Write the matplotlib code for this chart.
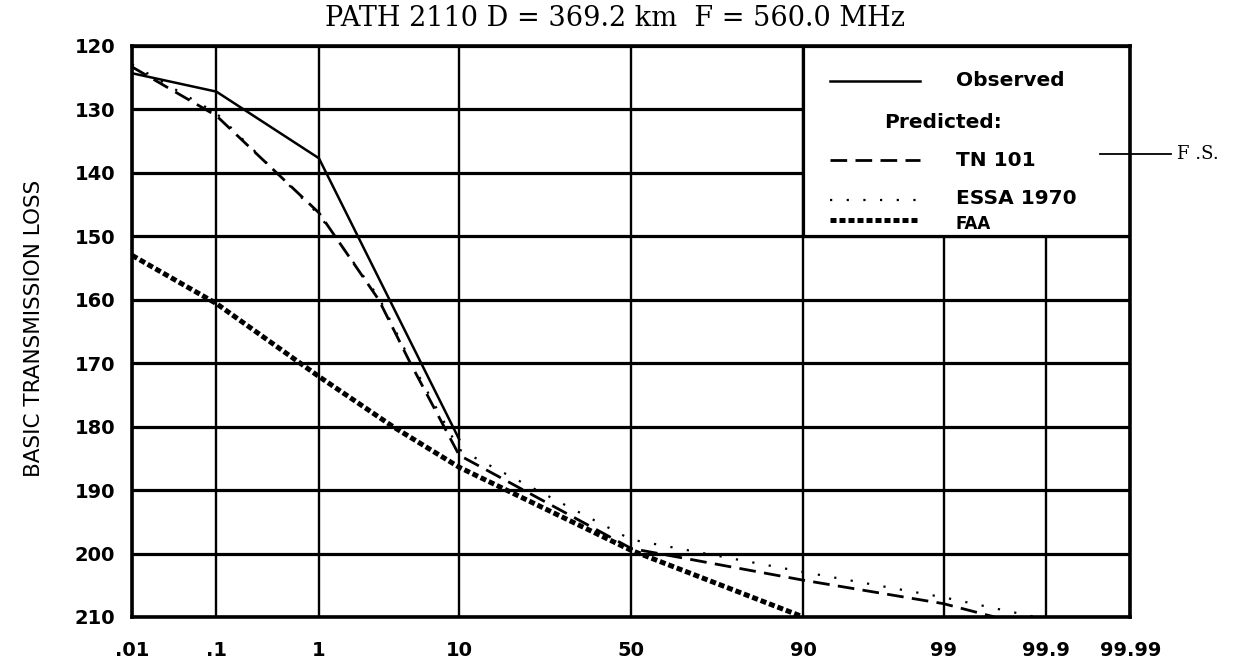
import numpy as np
import matplotlib
matplotlib.use("Agg")
import matplotlib.pyplot as plt
from statistics import NormalDist

# percent of time (probability scale) and basic transmission loss in dB
pct_ticks = [0.01, 0.1, 1, 10, 50, 90, 99, 99.9, 99.99]
pct_labels = [".01", ".1", "1", "10", "50", "90", "99", "99.9", "99.99"]
loss_ticks = [120, 130, 140, 150, 160, 170, 180, 190, 200, 210]

obs_pct = [0.01, 0.1, 1, 10]
obs_loss = [124.3, 127.2, 137.7, 182.0]

tn101_pct = [0.01, 0.1, 1, 3, 5, 10, 50, 90, 99, 99.66]
tn101_loss = [123.3, 131.0, 146.3, 160.0, 170.0, 184.5, 199.2, 204.2, 207.9, 210.0]

essa_pct = [0.01, 0.1, 1, 3, 5, 10, 50, 90, 99, 99.87]
essa_loss = [122.9, 130.6, 146.6, 159.6, 169.6, 183.6, 197.8, 202.9, 206.9, 210.0]

faa_pct = [0.01, 0.1, 1, 3.8, 10, 50, 90]
faa_loss = [153.0, 160.6, 172.1, 180.0, 186.4, 199.5, 210.0]

fs_loss = 137.0  # free space

# normal probability axis
nd = NormalDist()
fwd = np.vectorize(lambda p: nd.inv_cdf(p / 100.0) if 0 < p < 100 else np.nan, otypes=[float])
inv = np.vectorize(lambda z: nd.cdf(z) * 100.0, otypes=[float])

fig = plt.figure(figsize=(12.45, 6.64), dpi=100)
ax = fig.add_axes([0.106, 0.0708, 0.802, 0.860])
ax.set_xscale("function", functions=(fwd, inv))
ax.set_xlim(pct_ticks[0], pct_ticks[-1])
ax.set_ylim(loss_ticks[-1], loss_ticks[0])

ax.set_xticks(pct_ticks)
ax.set_xticklabels(pct_labels)
ax.set_yticks(loss_ticks)
ax.minorticks_off()
ax.tick_params(axis="x", length=0, pad=17, labelsize=14)
ax.tick_params(axis="y", length=0, pad=12, labelsize=14)
for t in ax.get_xticklabels() + ax.get_yticklabels():
    t.set_fontweight("bold")

ax.xaxis.grid(True, color="black", lw=1.7, zorder=1)
ax.yaxis.grid(True, color="black", lw=2.3, zorder=1)
ax.set_axisbelow(True)
for s in ax.spines.values():
    s.set_linewidth(2.6)

# legend box covers the upper right of the grid
box = plt.Rectangle((pct_ticks[5], loss_ticks[0]), pct_ticks[-1] - pct_ticks[5],
                    loss_ticks[3] - loss_ticks[0], facecolor="white",
                    edgecolor="black", lw=2.3, zorder=2)
ax.add_patch(box)

ax.plot(obs_pct, obs_loss, color="black", lw=1.8, zorder=3)
ax.plot(tn101_pct, tn101_loss, color="black", lw=2.0, dashes=(6, 3), zorder=3)
ax.plot(essa_pct, essa_loss, color="black", lw=1.6, dashes=(1, 6.5), zorder=3)
ax.plot(faa_pct, faa_loss, color="black", lw=3.6, dashes=(1.2, 0.6), zorder=3)

# hand made legend
yt = ax.get_yaxis_transform()
lx = [0.699, 0.789]
ax.plot(lx, [125.5, 125.5], transform=yt, color="black", lw=1.8, zorder=4)
ax.plot(lx, [138, 138], transform=yt, color="black", lw=2.0, dashes=(6, 3), zorder=4)
ax.plot(lx, [144.3, 144.3], transform=yt, color="black", lw=1.6, dashes=(1, 6.5), zorder=4)
ax.plot(lx, [147.4, 147.4], transform=yt, color="black", lw=3.6, dashes=(1.2, 0.6), zorder=4)
kw = dict(transform=yt, fontsize=14.5, fontweight="bold", va="center", zorder=4)
ax.text(0.825, 125.5, "Observed", **kw)
ax.text(0.753, 132.0, "Predicted:", **kw)
ax.text(0.825, 138.0, "TN 101", **kw)
ax.text(0.825, 144.0, "ESSA 1970", **kw)
ax.text(0.825, 148.0, "FAA", transform=yt, fontsize=12, fontweight="bold", va="center", zorder=4)

# free space marker
ax.plot([0.969, 1.041], [fs_loss, fs_loss], transform=yt, color="black", lw=1.3,
        clip_on=False, zorder=4)
ax.text(1.047, fs_loss, "F .S.", transform=yt, fontsize=13, family="DejaVu Serif",
        va="center", clip_on=False)

fig.text(0.494, 0.972, "PATH 2110 D = 369.2 km  F = 560.0 MHz", family="DejaVu Serif",
         fontsize=19.5, ha="center", va="center")
fig.text(0.027, 0.505, "BASIC TRANSMISSION LOSS", rotation=90, fontsize=15.5,
         ha="center", va="center")

fig.savefig("out.png", dpi=100, facecolor="white")
